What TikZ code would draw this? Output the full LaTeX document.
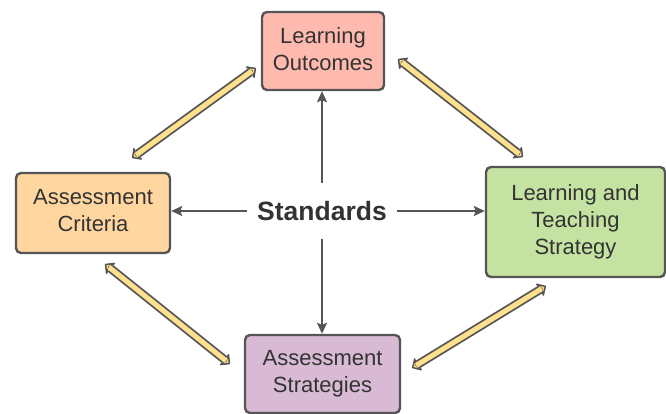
\documentclass[tikz,border=0pt]{standalone}
\usepackage{fontspec}
\setmainfont{Liberation Sans}
\usetikzlibrary{arrows.meta}

\definecolor{edgegray}{HTML}{555555}
\definecolor{txtgray}{HTML}{333333}
\definecolor{pinkfill}{HTML}{FFBAB0}
\definecolor{greenfill}{HTML}{C4E3A2}
\definecolor{orangefill}{HTML}{FFD6A0}
\definecolor{purplefill}{HTML}{D8BAD4}
\definecolor{armyellow}{HTML}{FFE08C}

\tikzset{
  box/.style={draw=edgegray, line width=2.4pt, rounded corners=5pt,
    align=center, inner sep=0pt, text=txtgray,
    font=\fontsize{22}{27}\selectfont},
  hub/.style={font=\bfseries\fontsize{26.5}{30}\selectfont, text=txtgray,
    inner xsep=10pt, inner ysep=0pt, minimum height=56pt},
  spoke/.style={draw=edgegray, line width=1.8pt,
    -{Stealth[length=11pt, width=10pt, inset=2pt]}},
  % two-headed yellow band: outline, heads, then yellow core
  bandout/.style={draw=edgegray, line width=8.6pt, shorten <=7pt, shorten >=7pt},
  bandheads/.style={draw=edgegray, line width=1.6pt,
    {Stealth[length=9pt, width=18pt, inset=3pt, round, fill=armyellow]}-%
    {Stealth[length=9pt, width=18pt, inset=3pt, round, fill=armyellow]}},
  bandcore/.style={draw=armyellow, line width=5pt, shorten <=5pt, shorten >=5pt},
}

\newcommand{\yellowband}[2]{%
  \draw[bandout] (#1) -- (#2);
  \draw[bandheads] (#1) -- (#2);
  \draw[bandcore] (#1) -- (#2);
}

\begin{document}
\begin{tikzpicture}[x=1pt, y=-1pt]
  \useasboundingbox (0,0) rectangle (666,414);

  % four topic boxes
  \node[box, fill=pinkfill,   minimum width=122pt, minimum height=78pt]  (lo)  at (323,51)    {Learning\\Outcomes\vphantom{g}};
  \node[box, fill=greenfill,  minimum width=179pt, minimum height=110pt] (lts) at (575.5,222) {Learning and\\Teaching\\Strategy};
  \node[box, fill=orangefill, minimum width=154pt, minimum height=80pt]  (ac)  at (93,213)    {Assessment\\Criteria\vphantom{g}};
  \node[box, fill=purplefill, minimum width=155pt, minimum height=78pt]  (as)  at (322.5,374) {Assessment\\Strategies};

  % central label
  \node[hub] (std) at (322,211) {Standards};

  % spokes from the centre
  \draw[spoke] (std.north) -- (std.north |- lo.south);
  \draw[spoke] (std.south) -- (std.south |- as.north);
  \draw[spoke] (std.west)  -- (std.west -| ac.east);
  \draw[spoke] (std.east)  -- (std.east -| lts.west);

  % ends of the yellow links around the cycle
  \coordinate (tlA) at (132,158);
  \coordinate (tlB) at (256,68);
  \coordinate (trA) at (398,59);
  \coordinate (trB) at (523,157);
  \coordinate (brA) at (546,286);
  \coordinate (brB) at (412,368);
  \coordinate (blA) at (105,264);
  \coordinate (blB) at (230,364);

  \yellowband{tlA}{tlB}
  \yellowband{trA}{trB}
  \yellowband{brA}{brB}
  \yellowband{blA}{blB}
\end{tikzpicture}
\end{document}
